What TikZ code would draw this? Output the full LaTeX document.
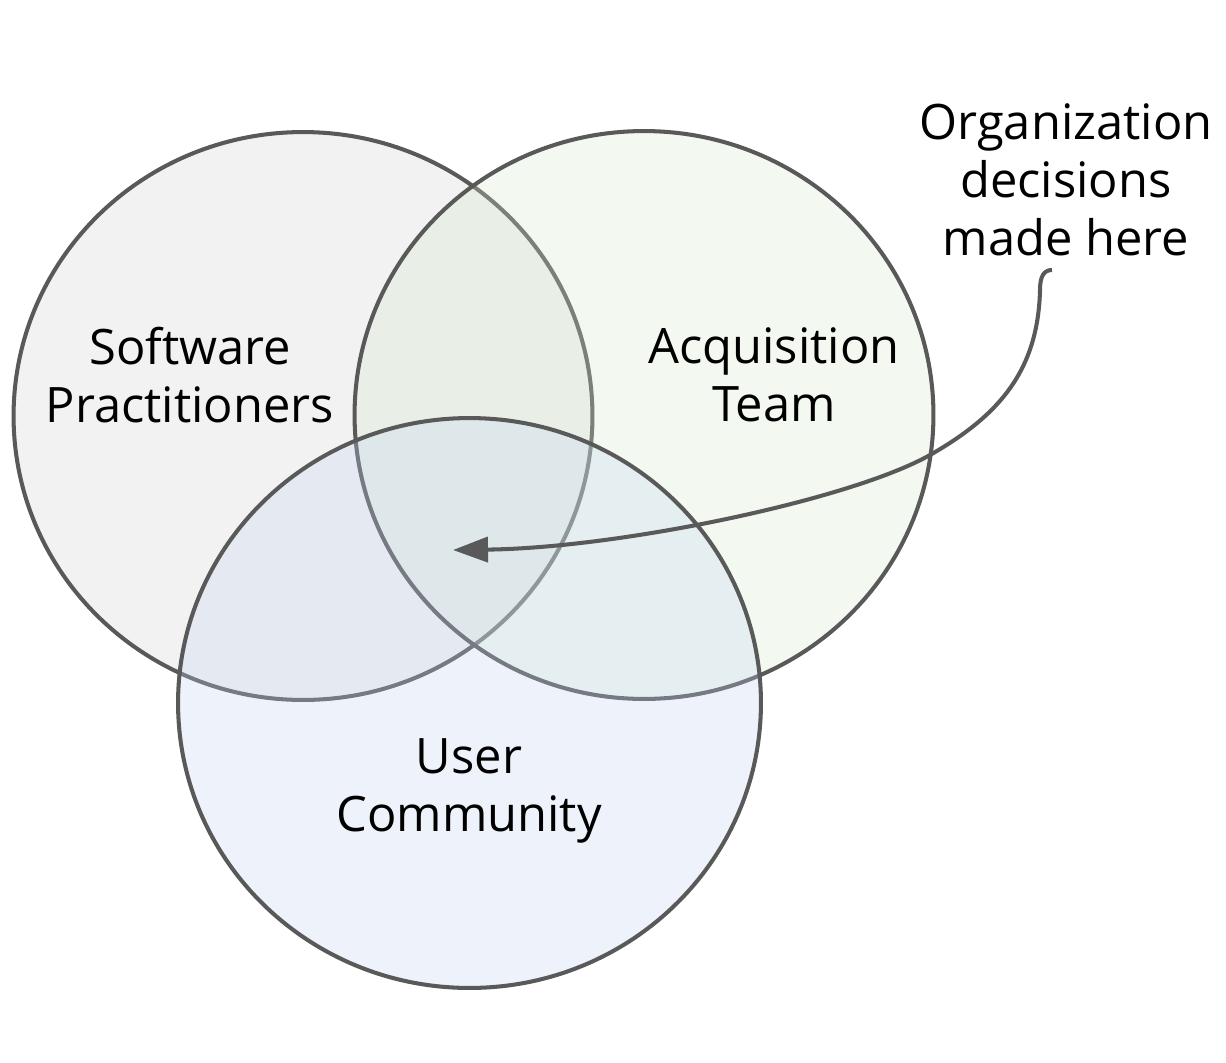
\documentclass[tikz,border=0pt]{standalone}
\usepackage{fontspec}
\setmainfont{Open Sans}
\usetikzlibrary{shapes.geometric, arrows.meta}

\definecolor{rim}{RGB}{89,89,89}
\definecolor{practfill}{RGB}{209,209,209}
\definecolor{acqfill}{RGB}{212,230,201}
\definecolor{commfill}{RGB}{194,212,241}

\begin{document}
\begin{tikzpicture}[x=0.02cm, y=-0.02cm,
  set/.style={draw=rim, ellipse, line width=2.3pt, fill opacity=0.28,
    minimum width=11.58cm, minimum height=11.36cm, inner sep=0pt},
  setname/.style={align=center, inner sep=0pt,
    font=\fontsize{27.8}{32.9}\selectfont}]
  \useasboundingbox (0, 0) rectangle (1226, 1062);

  \node[set, fill=practfill] (practitioners) at (303, 416){};

  \node[set, fill=acqfill] (acquisition) at (644, 415){};

  \node[set, fill=commfill, minimum width=11.66cm, minimum height=11.4cm]
    (community) at (469.5, 703){};

  \node[setname] (practname) at (190, 375){
    Software\\Practitioners
  };

  \node[setname] (acqname) at (774, 375){
    Acquisition\\Team
  };

  \node[setname] (commname) at (469, 791){
    User\\Community
  };

  \node[setname] (note) at (1066, 180){
    Organization\\decisions\\made here
  };

  \coordinate (hook) at (1052, 270);
  \coordinate (core) at (453, 550);

  \draw[rim, line width=2.3pt, -{Triangle[length=0.7cm, width=0.5cm]}]
    (hook) .. controls (1044, 270) and (1040, 276) .. (1040, 290)
    .. controls (1038, 370) and (1000, 415) .. (930, 455)
    .. controls (850, 500) and (620, 548) .. (core);
\end{tikzpicture}
\end{document}
